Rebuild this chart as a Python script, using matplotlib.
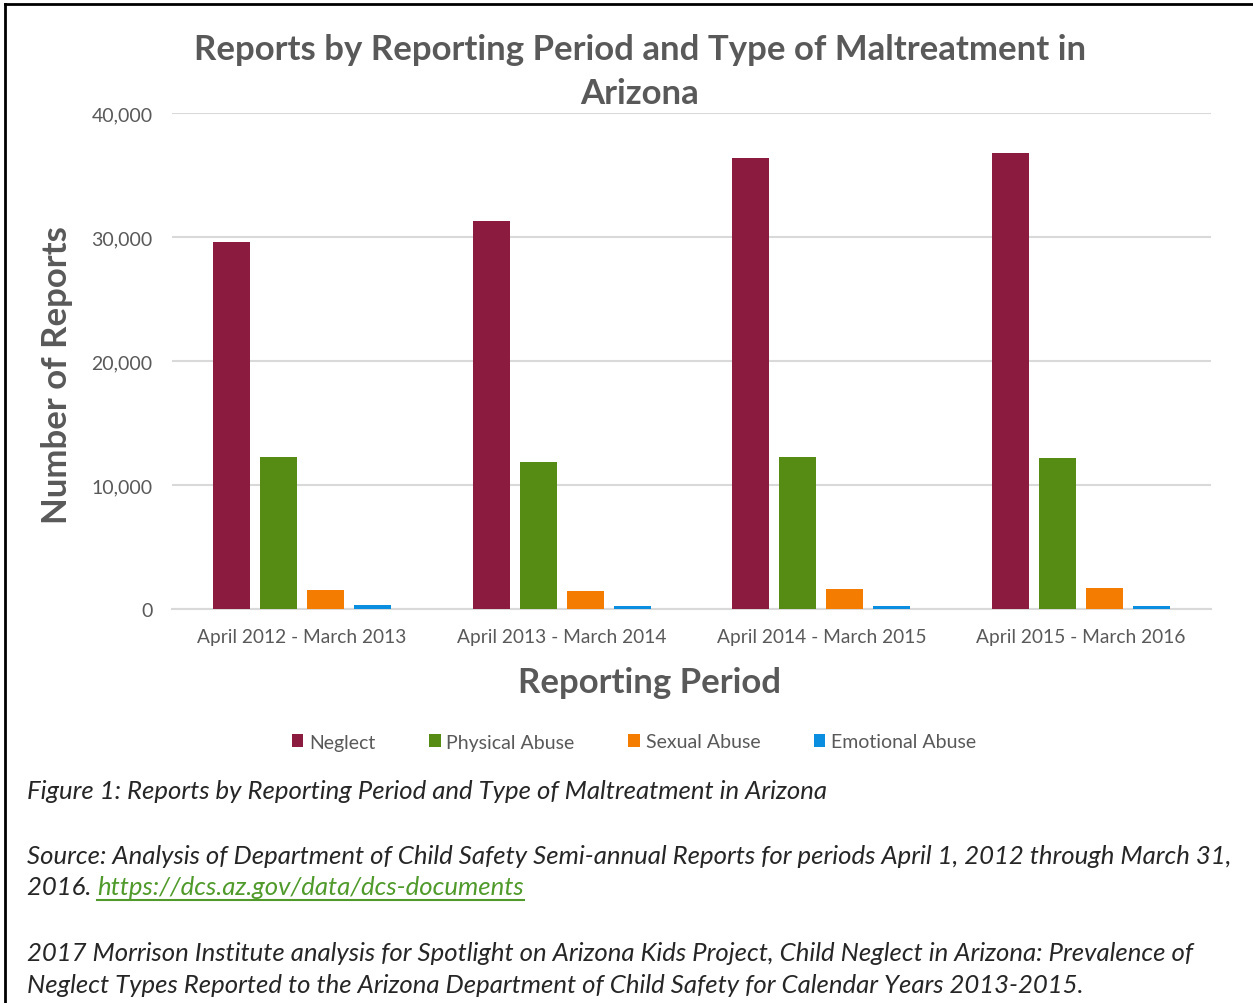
import matplotlib
matplotlib.use("Agg")
import matplotlib.pyplot as plt
import numpy as np
from matplotlib.patches import Patch
from matplotlib.lines import Line2D

periods = ["April 2012 - March 2013", "April 2013 - March 2014",
           "April 2014 - March 2015", "April 2015 - March 2016"]
series_names = ["Neglect", "Physical Abuse", "Sexual Abuse", "Emotional Abuse"]
neglect = [29610, 31280, 36350, 36750]
physical = [12220, 11840, 12280, 12140]
sexual = [1560, 1480, 1620, 1720]
emotional = [350, 270, 250, 270]
yticks = [0, 10000, 20000, 30000, 40000]

colors = ["#8B1C40", "#578C14", "#F47C00", "#0A8FE0"]
gray = "#595959"
font = "Lato"
plt.rcParams['font.family'] = [font, 'DejaVu Sans']

fig = plt.figure(figsize=(12.53, 10.04), dpi=100)
W, H = 1253, 1004
ax = fig.add_axes([172 / W, 1 - 610 / H, (1211 - 172) / W, (610 - 114) / H])

x = np.arange(len(periods))
bw = 37 / 260
step = 47 / 260
for i, (vals, c, name) in enumerate(zip([neglect, physical, sexual, emotional], colors, series_names)):
    ax.bar(x + (i - 1.5) * step, vals, width=bw, color=c, label=name, zorder=3)

ax.set_xlim(-0.5, len(periods) - 0.5)
ax.set_ylim(0, 40000)
ax.set_yticks(yticks)
ax.set_yticklabels([f"{v:,}" for v in yticks], fontsize=14, color=gray)
ax.set_xticks(x)
ax.set_xticklabels(periods, fontsize=13.8, color=gray)
ax.tick_params(axis='y', length=0, pad=14)
ax.tick_params(axis='x', length=0, pad=14)
ax.grid(axis='y', color='#D9D9D9', linewidth=1.5, zorder=0)
for s in ['top', 'right', 'left']:
    ax.spines[s].set_visible(False)
ax.spines['bottom'].set_color('#D9D9D9')
ax.spines['bottom'].set_linewidth(1.5)
ax.spines['bottom'].set_zorder(2)

fig.text(640 / W, 1 - 72 / H, "Reports by Reporting Period and Type of Maltreatment in\nArizona",
         ha='center', va='center', fontsize=25, fontweight='bold', color=gray, linespacing=1.5)
fig.text(57 / W, 1 - 375 / H, "Number of Reports", rotation=90, ha='center', va='center',
         fontsize=25, fontweight='bold', color=gray)
fig.text(650 / W, 1 - 683 / H, "Reporting Period", ha='center', va='center',
         fontsize=25, fontweight='bold', color=gray)

handles = [Patch(facecolor=c, edgecolor='none') for c in colors]
fig.legend(handles, series_names, loc='center', bbox_to_anchor=(634 / W, 1 - 743 / H), ncol=4,
           frameon=False, fontsize=14, labelcolor=gray, handlelength=0.6, handleheight=0.6,
           handletextpad=0.3, columnspacing=2.75)

cap = "#262626"
cs = 18.5
fig.text(27 / W, 1 - 792 / H, "Figure 1: Reports by Reporting Period and Type of Maltreatment in Arizona",
         ha='left', va='center', fontsize=cs, style='italic', color=cap)
fig.text(27 / W, 1 - 857 / H,
         "Source: Analysis of Department of Child Safety Semi-annual Reports for periods April 1, 2012 through March 31,",
         ha='left', va='center', fontsize=cs, style='italic', color=cap)
t1 = fig.text(27 / W, 1 - 888 / H, "2016. ", ha='left', va='center', fontsize=cs, style='italic', color=cap)
fig.canvas.draw()
bb = t1.get_window_extent()
link = fig.text(bb.x1 / W, 1 - 888 / H, "https://dcs.az.gov/data/dcs-documents", ha='left', va='center',
                fontsize=cs, style='italic', color='#4F9A2A')
fig.canvas.draw()
lb = link.get_window_extent()
fig.add_artist(Line2D([lb.x0 / W, lb.x1 / W], [1 - 901 / H, 1 - 901 / H], color='#4F9A2A', linewidth=1.5))
fig.text(27 / W, 1 - 954 / H,
         "2017 Morrison Institute analysis for Spotlight on Arizona Kids Project, Child Neglect in Arizona: Prevalence of",
         ha='left', va='center', fontsize=cs, style='italic', color=cap)
fig.text(27 / W, 1 - 986 / H,
         "Neglect Types Reported to the Arizona Department of Child Safety for Calendar Years 2013-2015.",
         ha='left', va='center', fontsize=cs, style='italic', color=cap)

# frame
fig.add_artist(Line2D([5 / W, 1], [1 - 5 / H, 1 - 5 / H], color='black', linewidth=2))
fig.add_artist(Line2D([5 / W, 5 / W], [0, 1 - 5 / H], color='black', linewidth=2))

fig.savefig("out.png", dpi=100)
